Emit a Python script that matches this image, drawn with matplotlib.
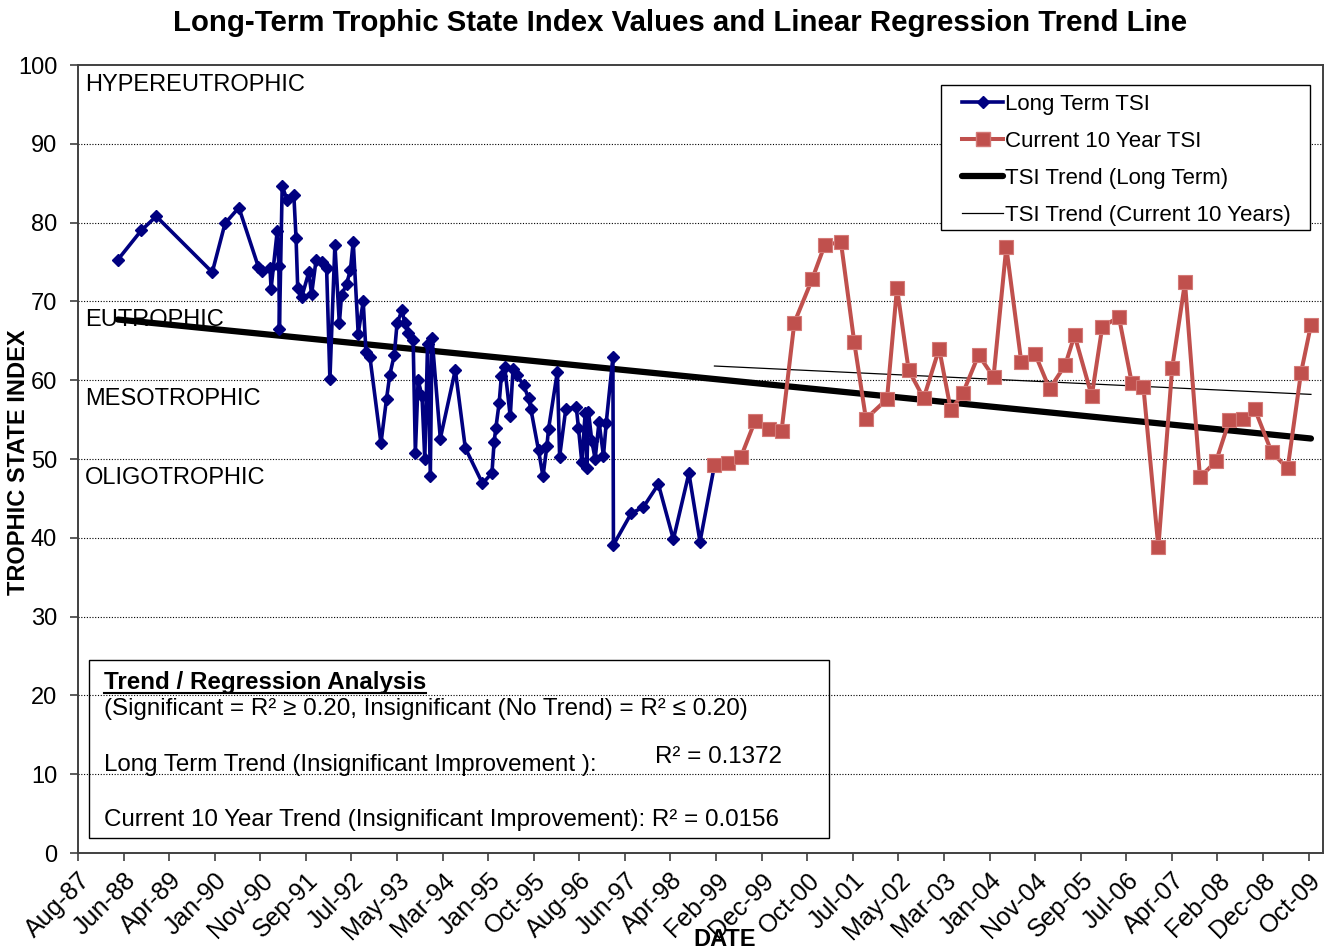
import datetime as dt
import matplotlib
matplotlib.use("Agg")
import matplotlib.pyplot as plt
import matplotlib.dates as mdates
from matplotlib.lines import Line2D
from matplotlib.patches import Rectangle
import numpy as np

plt.rcParams['font.family'] = ['Liberation Sans', 'DejaVu Sans']

# long term TSI (decimal year, TSI)
blue_year = [1988.33, 1988.75, 1989.02, 1990.03, 1990.26, 1990.51, 1990.86, 1990.93,
             1991.07, 1991.09, 1991.20, 1991.23, 1991.24, 1991.29, 1991.38, 1991.50,
             1991.54, 1991.57, 1991.64, 1991.77, 1991.82, 1991.90, 1992.00, 1992.09,
             1992.15, 1992.24, 1992.32, 1992.36, 1992.45, 1992.52, 1992.57, 1992.66,
             1992.75, 1992.80, 1992.87, 1993.07, 1993.17, 1993.23, 1993.31, 1993.36,
             1993.45, 1993.50, 1993.56, 1993.65, 1993.69, 1993.74, 1993.81, 1993.86,
             1993.91, 1993.96, 1993.99, 1994.14, 1994.41, 1994.59, 1994.90, 1995.07,
             1995.11, 1995.14, 1995.20, 1995.24, 1995.30, 1995.40, 1995.45, 1995.52,
             1995.64, 1995.73, 1995.77, 1995.91, 1995.99, 1996.06, 1996.09, 1996.25,
             1996.29, 1996.40, 1996.59, 1996.63, 1996.69, 1996.75, 1996.78, 1996.81,
             1996.87, 1996.93, 1997.00, 1997.08, 1997.13, 1997.25, 1997.26, 1997.58,
             1997.80, 1998.07, 1998.34, 1998.62, 1998.82]
blue_tsi = [75.3, 79.0, 80.8, 73.7, 79.9, 81.9, 74.4, 73.9,
            74.3, 71.6, 78.9, 74.5, 66.5, 84.6, 82.9, 83.5,
            78.0, 71.7, 70.5, 73.7, 70.9, 75.2, 75.0, 74.3,
            60.1, 77.2, 67.2, 70.8, 72.2, 74.0, 77.6, 65.9,
            70.0, 63.6, 63.0, 52.0, 57.6, 60.7, 63.2, 67.2,
            68.9, 67.2, 66.0, 65.1, 50.8, 60.0, 58.0, 50.0,
            64.6, 47.9, 65.4, 52.6, 61.3, 51.4, 46.9, 48.2,
            52.2, 53.9, 57.1, 60.5, 61.7, 55.4, 61.4, 60.6,
            59.4, 57.7, 56.4, 51.1, 47.8, 51.6, 53.8, 61.1,
            50.3, 56.3, 56.6, 53.9, 49.6, 55.8, 48.9, 56.0,
            52.3, 50.0, 54.7, 50.4, 54.6, 62.9, 39.1, 43.1,
            43.9, 46.8, 39.8, 48.2, 39.5]

# current 10 year TSI
red_year = [1999.08, 1999.33, 1999.56, 1999.81, 2000.06, 2000.29, 2000.52, 2000.84,
            2001.07, 2001.36, 2001.60, 2001.81, 2002.19, 2002.37, 2002.58, 2002.85,
            2003.13, 2003.34, 2003.56, 2003.84, 2004.11, 2004.34, 2004.61, 2004.86,
            2005.12, 2005.40, 2005.57, 2005.88, 2006.07, 2006.37, 2006.60, 2006.81,
            2007.08, 2007.33, 2007.56, 2007.83, 2008.12, 2008.36, 2008.61, 2008.82,
            2009.12, 2009.41, 2009.65, 2009.83]
red_tsi = [49.2, 49.5, 50.3, 54.8, 53.8, 53.6, 67.3, 72.8,
           77.2, 77.5, 64.8, 55.1, 57.6, 71.7, 61.3, 57.7,
           64.0, 56.2, 58.4, 63.2, 60.4, 76.9, 62.3, 63.3,
           58.9, 61.9, 65.7, 58.0, 66.8, 68.0, 59.7, 59.2,
           38.8, 61.6, 72.4, 47.7, 49.7, 54.9, 55.1, 56.3,
           50.9, 48.8, 60.9, 67.0]

# trend line end points
trend_long_year = [1988.33, 2009.83]
trend_long_tsi = [67.7, 52.6]
trend_cur_year = [1999.08, 2009.83]
trend_cur_tsi = [61.8, 58.2]

zones = ['HYPEREUTROPHIC', 'EUTROPHIC', 'MESOTROPHIC', 'OLIGOTROPHIC']
zone_y = [97.5, 67.6, 57.6, 47.6]


def to_num(y):
    return (np.asarray(y) - 1970.0) * 365.2425


fig = plt.figure(figsize=(13.26, 9.51), dpi=100)
ax = fig.add_axes([78/1326, 98/951, 1245/1326, 788/951])

x0 = mdates.date2num(dt.datetime(1987, 8, 12))
ax.set_xlim(x0, x0 + 8195)
ax.set_ylim(0, 100)

for v in range(10, 100, 10):
    ax.axhline(v, color='black', lw=0.8, ls=(0, (1, 1.5)), zorder=0)

for name, yv in zip(zones, zone_y):
    ax.text(x0 + 46, yv, name, fontsize=17, va='center', ha='left', zorder=1)

ax.plot(to_num(trend_long_year), trend_long_tsi, color='black', lw=4.5,
        solid_capstyle='round', zorder=2)
ax.plot(to_num(trend_cur_year), trend_cur_tsi, color='black', lw=0.9, zorder=2)

bx = np.r_[to_num(blue_year), to_num(red_year[:1])]
by = np.r_[blue_tsi, red_tsi[:1]]
ax.plot(bx, by, color='#000080', lw=2.6, marker='D', ms=6.5, mew=1,
        mfc='#000080', mec='#000080', zorder=3)
ax.plot(to_num(red_year), red_tsi, color='#C0504D', lw=2.9, marker='s', ms=10,
        mew=0.8, mfc='#C0504D', mec='#D47A77', zorder=4)

ax.set_xticks([x0 + 300*k for k in range(28)])
ax.xaxis.set_major_formatter(mdates.DateFormatter('%b-%y'))
ax.set_yticks(range(0, 101, 10))
ax.tick_params(axis='both', length=6, width=1.2, color='#404040', direction='out')
ax.tick_params(axis='x', labelsize=18, pad=5)
ax.tick_params(axis='y', labelsize=17, pad=9)
for lab in ax.get_xticklabels():
    lab.set_rotation(45)
    lab.set_ha('right')
    lab.set_rotation_mode('anchor')
for s in ax.spines.values():
    s.set_color('#404040')
    s.set_linewidth(1.4)

# legend: own frame so the padding matches
ax.add_patch(Rectangle((863/1245, 623/788), 369/1245, 145/788, transform=ax.transAxes,
                       facecolor='white', edgecolor='black', lw=1.0, zorder=5))
handles = [
    Line2D([], [], color='#000080', lw=2.6, marker='D', ms=6.5, mfc='#000080'),
    Line2D([], [], color='#C0504D', lw=2.9, marker='s', ms=10, mfc='#C0504D', mec='#D47A77'),
    Line2D([], [], color='black', lw=4.5, solid_capstyle='round'),
    Line2D([], [], color='black', lw=0.9),
]
labels = ['Long Term TSI', 'Current 10 Year TSI', 'TSI Trend (Long Term)',
          'TSI Trend (Current 10 Years)']
leg = ax.legend(handles, labels, loc='upper left', bbox_to_anchor=(884/1245, 759/788),
                fontsize=16, frameon=False, handlelength=1.85, handletextpad=0.1,
                labelspacing=0.72, borderpad=0, borderaxespad=0)
leg.set_zorder(6)

ax.add_patch(Rectangle((11/1245, 15/788), 740/1245, 178/788, transform=ax.transAxes,
                       fill=False, edgecolor='black', lw=1.0, zorder=5))


def fx(px):
    return px / 1326


def fy(py):
    return 1 - py / 951


hdr = fig.text(fx(104), fy(682), 'Trend / Regression Analysis', fontsize=17.4,
               fontweight='bold', va='center', ha='left')
fig.text(fx(104), fy(709), '(Significant = R² ≥ 0.20, Insignificant (No Trend) = R² ≤ 0.20)',
         fontsize=17.4, va='center', ha='left')
fig.text(fx(104), fy(765), 'Long Term Trend (Insignificant Improvement ):', fontsize=17.4,
         va='center', ha='left')
fig.text(fx(655), fy(757), 'R² = 0.1372', fontsize=17.4, va='center', ha='left')
fig.text(fx(104), fy(820), 'Current 10 Year Trend (Insignificant Improvement): R² = 0.0156',
         fontsize=17.4, va='center', ha='left')

fig.text(fx(680), fy(23), 'Long-Term Trophic State Index Values and Linear Regression Trend Line',
         fontsize=21.2, fontweight='bold', ha='center', va='center')
fig.text(fx(19), fy(462), 'TROPHIC STATE INDEX', fontsize=17, fontweight='bold',
         rotation=90, ha='center', va='center')
fig.text(fx(725), fy(940), 'DATE', fontsize=17, fontweight='bold', ha='center', va='center')

# underline the box heading
fig.canvas.draw()
bb = hdr.get_window_extent()
fig.add_artist(Line2D([bb.x0 / 1326, bb.x1 / 1326], [(bb.y0 + 1) / 951] * 2,
                      color='black', lw=1.5, transform=fig.transFigure))

fig.savefig('out.png', dpi=100)
